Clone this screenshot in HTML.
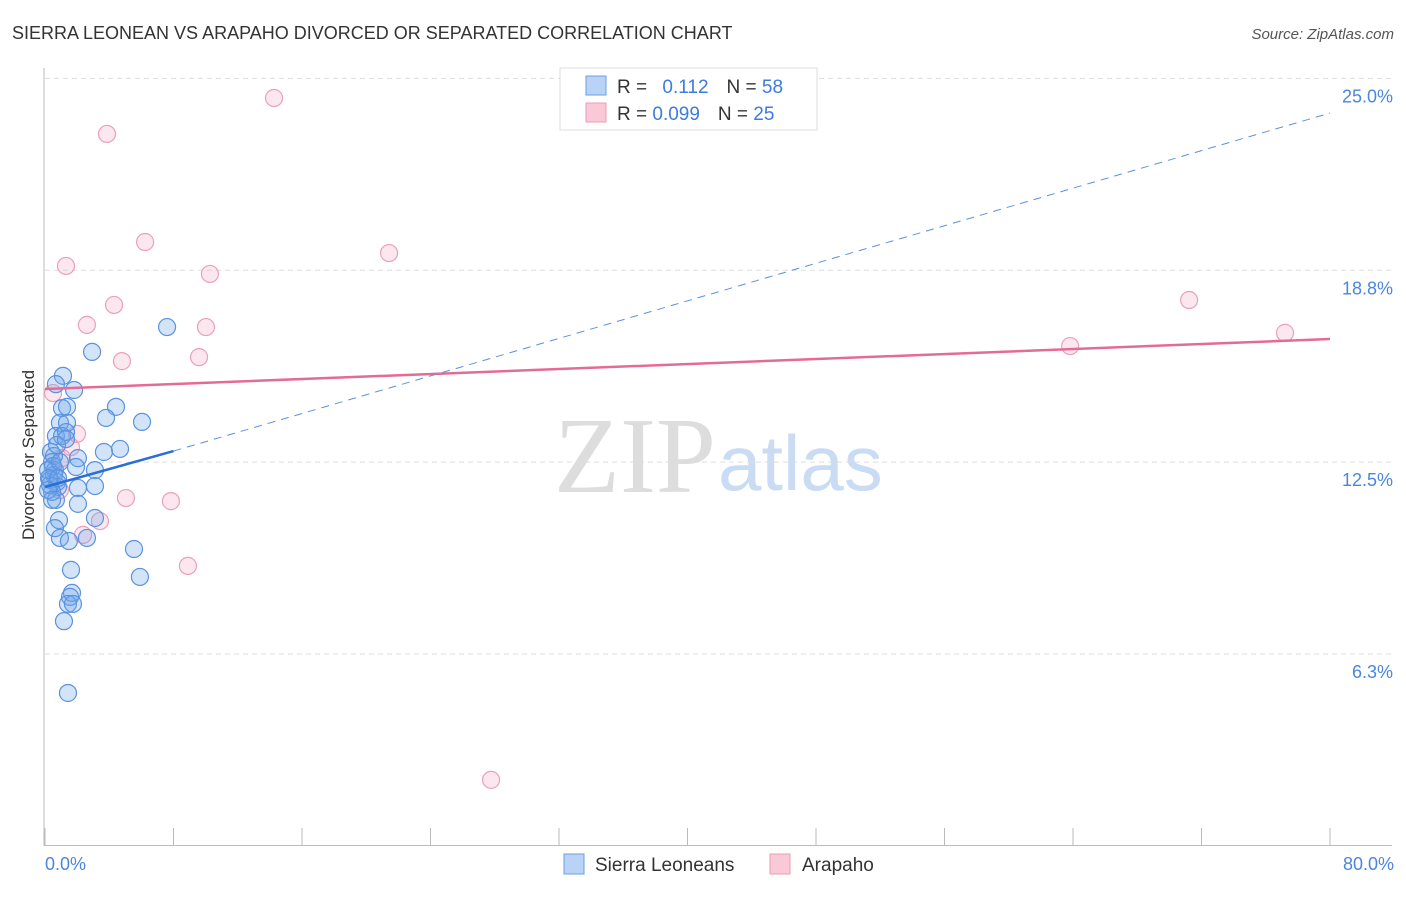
<!DOCTYPE html>
<html><head><meta charset="utf-8"><style>
body{margin:0;background:#fff;font-family:"Liberation Sans",sans-serif;}
</style></head><body>
<svg id="c" width="1406" height="892" xmlns="http://www.w3.org/2000/svg">
<text x="12" y="39" font-size="18" fill="#333">SIERRA LEONEAN VS ARAPAHO DIVORCED OR SEPARATED CORRELATION CHART</text>
<text x="1394" y="39" font-size="15" fill="#555" font-style="italic" text-anchor="end">Source: ZipAtlas.com</text>
<text x="716" y="492" font-size="108" fill="#ddd" text-anchor="end" font-family="Liberation Serif">ZIP</text>
<text x="718" y="490" font-size="78" fill="#c9dcf3">atlas</text>
<g id="grid"></g>
<line x1="44" y1="68" x2="44" y2="846" stroke="#bbb"/>
<line x1="44" y1="845.5" x2="1392" y2="845.5" stroke="#bbb"/>
<g id="xt"></g>
<text transform="translate(34,455) rotate(-90)" font-size="17" fill="#333" text-anchor="middle">Divorced or Separated</text>
<text x="45" y="870" font-size="18" fill="#4a86e0">0.0%</text>
<text x="1394" y="870" font-size="18" fill="#4a86e0" text-anchor="end">80.0%</text>
<g id="pts"></g>
<g id="lines"></g>
<g>
<rect x="560" y="68" width="257" height="62" fill="#fff" stroke="#ddd"/>
<rect x="586" y="76" width="20" height="19" fill="#b8d3f5" stroke="#6a9fe0"/>
<rect x="586" y="103" width="20" height="19" fill="#f9c9d8" stroke="#ec9db6"/>
<text x="617" y="93" font-size="19" fill="#333">R = <tspan fill="#3d7be0" dx="10">0.112</tspan><tspan dx="18" fill="#333">N = </tspan><tspan fill="#3d7be0">58</tspan></text>
<text x="617" y="120" font-size="19" fill="#333">R = <tspan fill="#3d7be0">0.099</tspan><tspan dx="18" fill="#333">N = </tspan><tspan fill="#3d7be0">25</tspan></text>
</g>
<g>
<rect x="564" y="854" width="20" height="20" fill="#b8d3f5" stroke="#6a9fe0"/>
<text x="595" y="871" font-size="19" fill="#333">Sierra Leoneans</text>
<rect x="770" y="854" width="20" height="20" fill="#f9c9d8" stroke="#ec9db6"/>
<text x="802" y="871" font-size="19" fill="#333">Arapaho</text>
</g>
</svg>
<script>
const yTicks=[6.25,12.5,18.75,25];
const yTickLabels=["6.3%","12.5%","18.8%","25.0%"];
const xTicks=[0,8,16,24,32,40,48,56,64,72,80];
const blueX=[7.60,2.93,1.12,0.68,1.81,1.06,1.37,4.42,3.80,6.04,0.93,1.37,0.68,1.06,1.31,4.67,3.67,0.37,0.56,2.05,0.44,3.11,1.93,0.62,0.56,0.31,0.75,0.81,3.11,2.05,0.44,0.68,2.05,3.11,0.87,0.62,0.93,1.49,2.61,5.54,5.91,1.62,1.68,1.56,1.43,1.74,1.18,1.43,0.31,0.50,0.19,0.25,0.75,0.93,0.19,0.44,0.81,1.31];
const blueY=[16.90,16.09,15.31,15.04,14.85,14.26,14.30,14.30,13.94,13.81,13.78,13.78,13.35,13.35,13.48,12.93,12.83,12.83,12.70,12.63,12.50,12.24,12.34,12.24,12.08,11.92,11.85,11.69,11.72,11.66,11.53,11.27,11.14,10.68,10.61,10.35,10.03,9.93,10.03,9.67,8.76,8.99,8.24,8.11,7.88,7.88,7.32,4.98,11.75,12.37,12.24,11.98,13.06,12.50,11.59,11.27,11.98,13.25];
const pinkX=[14.26,3.86,6.23,1.31,21.42,10.27,4.30,2.61,10.02,9.59,4.79,63.82,71.23,77.20,0.50,1.99,1.62,0.93,5.04,7.84,3.42,2.37,8.90,27.77,1.06];
const pinkY=[24.36,23.19,19.67,18.89,19.31,18.63,17.62,16.97,16.90,15.92,15.79,16.28,17.78,16.71,14.75,13.42,12.99,11.59,11.33,11.23,10.58,10.13,9.12,2.15,12.63];
const blueTrendX=[0,8,80];
const blueTrendY=[11.69,12.86,23.87];
const pinkTrendX=[0,80];
const pinkTrendY=[14.88,16.51];
const NS="http://www.w3.org/2000/svg";
const sx=v=>45+v/80*1285;
const sy=v=>654-(v-6.25)*30.7;
function mk(t,a,p){const e=document.createElementNS(NS,t);for(const k in a)e.setAttribute(k,a[k]);p.appendChild(e);return e;}
const grid=document.getElementById('grid');
yTicks.forEach((v,i)=>{
 const l=mk('line',{x1:45,x2:1392,y1:sy(v),y2:sy(v),stroke:'#ddd','stroke-dasharray':'5,4'},grid);
 
 
 const t=mk('text',{x:1393,y:sy(v)+24,'font-size':18,fill:'#4a86e0','text-anchor':'end'},grid);
 t.textContent=yTickLabels[i];
 
 
});
const xt=document.getElementById('xt');
xTicks.forEach(v=>{
 const l=mk('line',{x1:sx(v),x2:sx(v),y1:828,y2:845,stroke:'#bbb'},xt);
 
 
});
const pts=document.getElementById('pts');
pinkX.forEach((x,i)=>{
 const c=mk('circle',{cx:sx(x),cy:sy(pinkY[i]),r:8.5,fill:'rgba(244,160,190,0.25)',stroke:'#eba0b8','stroke-width':1.2},pts);
 
 
});
blueX.forEach((x,i)=>{
 const c=mk('circle',{cx:sx(x),cy:sy(blueY[i]),r:8.5,fill:'rgba(110,165,235,0.3)',stroke:'#5a92df','stroke-width':1.2},pts);
 
 
});
const lg=document.getElementById('lines');
const pl=mk('line',{x1:sx(pinkTrendX[0]),y1:sy(pinkTrendY[0]),x2:sx(pinkTrendX[1]),y2:sy(pinkTrendY[1]),stroke:'#e46b93','stroke-width':2.5},lg);


const bl=mk('line',{x1:sx(blueTrendX[0]),y1:sy(blueTrendY[0]),x2:sx(blueTrendX[1]),y2:sy(blueTrendY[1]),stroke:'#2a6fd6','stroke-width':2.5},lg);


const bd=mk('line',{x1:sx(blueTrendX[1]),y1:sy(blueTrendY[1]),x2:sx(blueTrendX[2]),y2:sy(blueTrendY[2]),stroke:'#5a92df','stroke-width':1,'stroke-dasharray':'8,6'},lg);


</script>
</body></html>
